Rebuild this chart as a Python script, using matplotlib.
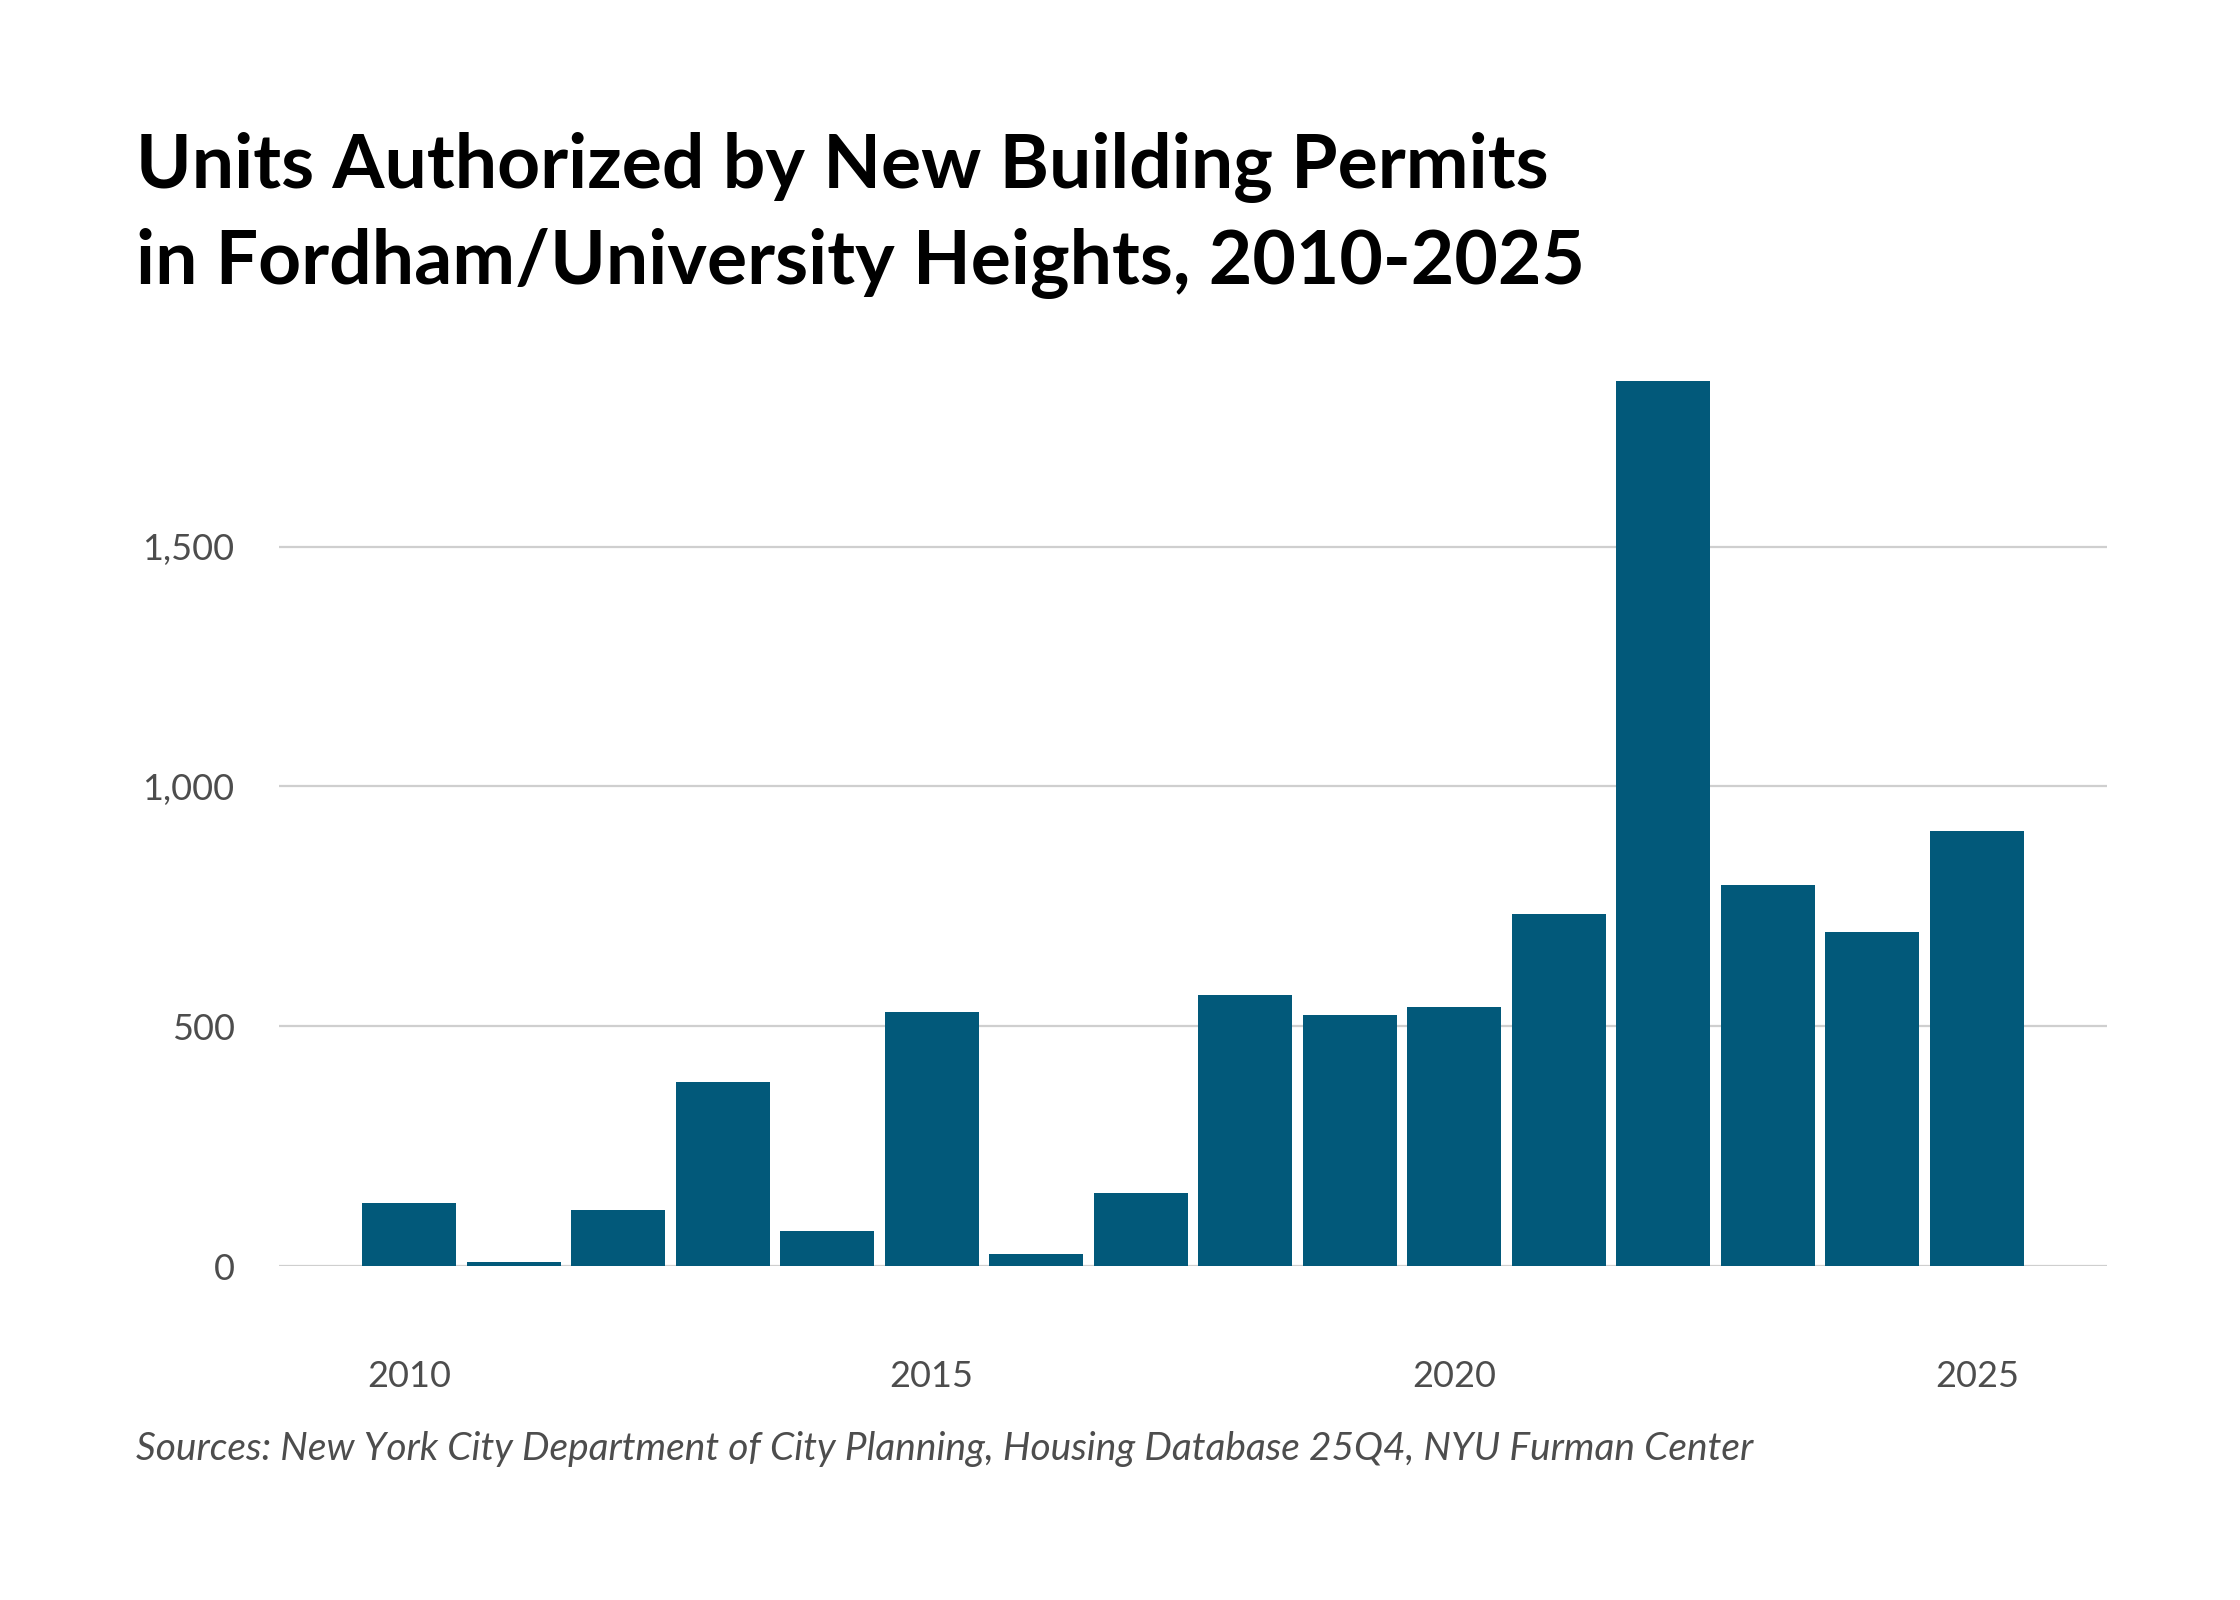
import matplotlib.pyplot as plt
from matplotlib.ticker import FuncFormatter

years = list(range(2010, 2026))
units = [131, 8, 116, 383, 74, 529, 26, 152, 565, 523, 539, 733, 1845, 794, 696, 908]

y_ticks = [0, 500, 1000, 1500]
x_ticks = [2010, 2015, 2020, 2025]

title_lines = ["Units Authorized by New Building Permits",
               "in Fordham/University Heights, 2010-2025"]
source = "Sources: New York City Department of City Planning, Housing Database 25Q4, NYU Furman Center"

BAR = '#02597a'
GRID = '#cfcfcf'
LABEL = '#4d4d4d'

plt.rcParams['font.family'] = ['Lato', 'DejaVu Sans']

fig = plt.figure(figsize=(22.4, 16), dpi=100)
fig.patch.set_facecolor('white')

# axes box measured in pixels of the 2240x1600 canvas
left, right, base, top = 279, 2107, 1266, 1266 - 1900 * 0.4796
ax = fig.add_axes([left / 2240, 1 - base / 1600, (right - left) / 2240, (base - top) / 1600])

ax.bar(years, units, width=0.9, color=BAR, zorder=3)
ax.set_xlim(2010 - 1.244, 2025 + 1.244)
ax.set_ylim(0, 1900)

ax.set_yticks(y_ticks)
ax.yaxis.set_major_formatter(FuncFormatter(lambda v, p: f'{int(v):,}'))
ax.set_xticks(x_ticks)
ax.grid(axis='y', color=GRID, linewidth=1.6, zorder=0)
ax.grid(axis='x', visible=False)
for s in ax.spines.values():
    s.set_visible(False)
ax.tick_params(axis='both', length=0, labelsize=26, labelcolor=LABEL)
ax.tick_params(axis='y', pad=32)
ax.tick_params(axis='x', pad=68)

for i, line in enumerate(title_lines):
    fig.text(136 / 2240, 1 - (188 + 96 * i) / 1600, line, fontsize=54, fontweight='bold',
             color='black', ha='left', va='baseline')
fig.text(136 / 2240, 1 - 1460 / 1600, source, fontsize=28, style='italic',
         color=LABEL, ha='left', va='baseline')

fig.savefig('out.png', dpi=100, facecolor='white')
